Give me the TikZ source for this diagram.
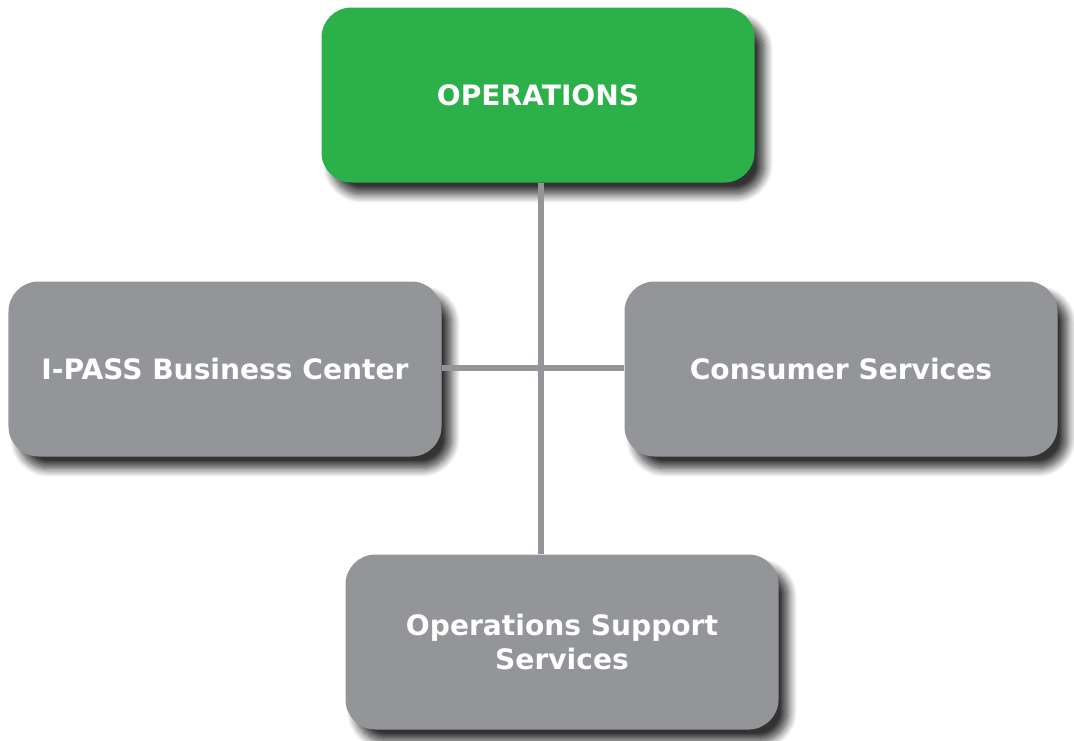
\documentclass[tikz,border=0pt]{standalone}
\usepackage{fontspec}
\setmainfont{DejaVu Sans}
\usepackage{tikz}
\usetikzlibrary{positioning,calc,shadows.blur}

\definecolor{opsgreen}{HTML}{2BB04A}
\definecolor{unitgray}{HTML}{939598}

\tikzset{
    unitbox/.style={rectangle, rounded corners=0.6cm, fill=unitgray, text=white,
        minimum width=8.66cm, minimum height=3.5cm, align=center,
        font=\bfseries\fontsize{16}{19}\selectfont,
        blur shadow={shadow xshift=0.2cm, shadow yshift=-0.24cm, shadow blur radius=0.17cm, shadow blur steps=12, shadow opacity=80}},
    headbox/.style={unitbox, fill=opsgreen},
    link/.style={draw=unitgray, line width=0.12cm}
}

\begin{document}
\begin{tikzpicture}
    \useasboundingbox (0,0) rectangle (21.48,-14.8);

    % Head of department
    \node [headbox] (ops) at (10.76,-1.90) {OPERATIONS};

    % Units
    \node [unitbox] (ipass) at (4.50,-7.38) {I-PASS Business Center};
    \node [unitbox] (consumer) at (16.82,-7.38) {Consumer Services};
    \node [unitbox] (support) at (11.24,-12.84) {Operations Support\\Services};

    % Connectors
    \coordinate (hub) at (10.82,-7.36);
    \draw [link] (ops.south -| hub) -- (support.north -| hub);
    \draw [link] (ipass.east |- hub) -- (consumer.west |- hub);
\end{tikzpicture}
\end{document}
